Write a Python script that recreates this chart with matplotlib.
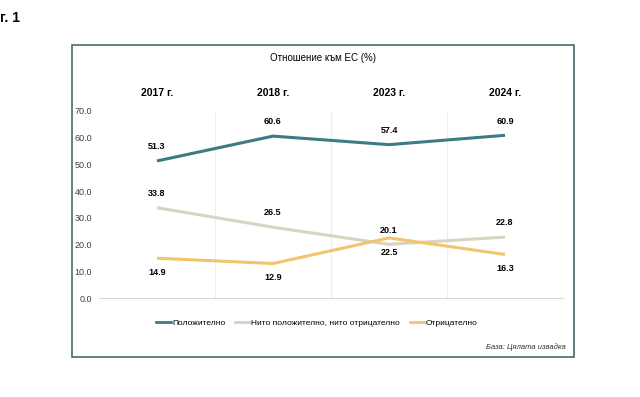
import matplotlib
matplotlib.use('Agg')
import matplotlib.pyplot as plt
from matplotlib.patches import Rectangle
from matplotlib.lines import Line2D

plt.rcParams['font.family'] = ['Liberation Sans', 'DejaVu Sans']

# данни
years = ['2017 г.', '2018 г.', '2023 г.', '2024 г.']
positive = [51.3, 60.6, 57.4, 60.9]
neutral = [33.8, 26.5, 20.1, 22.8]
negative = [14.9, 12.9, 22.5, 16.3]
series_names = ['Положително', 'Нито положително, нито отрицателно', 'Отрицателно']
colors = ['#3d7a84', '#d6d5c3', '#f1c56e']
y_ticks = [0, 10, 20, 30, 40, 50, 60, 70]

W, H = 640, 397
fig = plt.figure(figsize=(W / 100, H / 100), dpi=100)


def px(x0, y0, x1, y1):
    """пиксели -> координати на фигурата"""
    return [x0 / W, 1 - y1 / H, (x1 - x0) / W, (y1 - y0) / H]


# рамка
fig.patches.append(Rectangle((72 / W, 1 - 357 / H), (574 - 72) / W, (357 - 45) / H,
                             transform=fig.transFigure, fill=False,
                             edgecolor='#4b6a70', linewidth=1.2))

ax = fig.add_axes(px(99, 111, 563, 298))
x = list(range(len(years)))
for vals, c in zip([positive, neutral, negative], colors):
    ax.plot(x, vals, color=c, linewidth=2.2, solid_capstyle='butt')

# етикети на стойностите
for i in x:
    ax.annotate(f'{positive[i]:.1f}', (i, positive[i]), xytext=(0, 7), textcoords='offset points',
                ha='center', va='bottom', fontsize=6.5, fontweight='bold')
    ax.annotate(f'{neutral[i]:.1f}', (i, neutral[i]), xytext=(0, 7), textcoords='offset points',
                ha='center', va='bottom', fontsize=6.5, fontweight='bold')
    ax.annotate(f'{negative[i]:.1f}', (i, negative[i]), xytext=(0, -7), textcoords='offset points',
                ha='center', va='top', fontsize=6.5, fontweight='bold')

ax.set_xlim(-0.5, len(years) - 0.5)
ax.set_ylim(0, 70)
ax.set_yticks(y_ticks)
ax.set_yticklabels([f'{v:.1f}' for v in y_ticks], fontsize=6.5, color='#404040')
ax.tick_params(axis='y', length=0, pad=5)

ax.xaxis.tick_top()
ax.set_xticks(x)
ax.set_xticklabels(years, fontsize=7.5, fontweight='bold')
ax.tick_params(axis='x', which='major', length=0, pad=9)
ax.set_xticks([0.5, 1.5, 2.5], minor=True)
ax.tick_params(axis='x', which='minor', length=0)
ax.grid(True, which='minor', axis='x', color='#ededed', linewidth=0.8)

for s in ['top', 'left', 'right']:
    ax.spines[s].set_visible(False)
ax.spines['bottom'].set_color('#d9d9d9')
ax.spines['bottom'].set_linewidth(0.8)

fig.text(323 / W, 1 - 58 / H, 'Отношение към ЕС (%)', ha='center', va='center', fontsize=7)
fig.text(0, 1 - 18 / H, 'г. 1', ha='left', va='center', fontsize=10, fontweight='bold')

handles = [Line2D([], [], color=c, linewidth=2) for c in colors]
fig.legend(handles, series_names, loc='center', bbox_to_anchor=(317 / W, 1 - 323 / H),
           ncol=3, frameon=False, fontsize=6, handlelength=1.8, handletextpad=0.1,
           columnspacing=1.2)

fig.text(566 / W, 1 - 347 / H, 'База: Цялата извадка', ha='right', va='center',
         fontsize=5.5, style='italic', color='#333333')

fig.savefig('out.png', dpi=100)
